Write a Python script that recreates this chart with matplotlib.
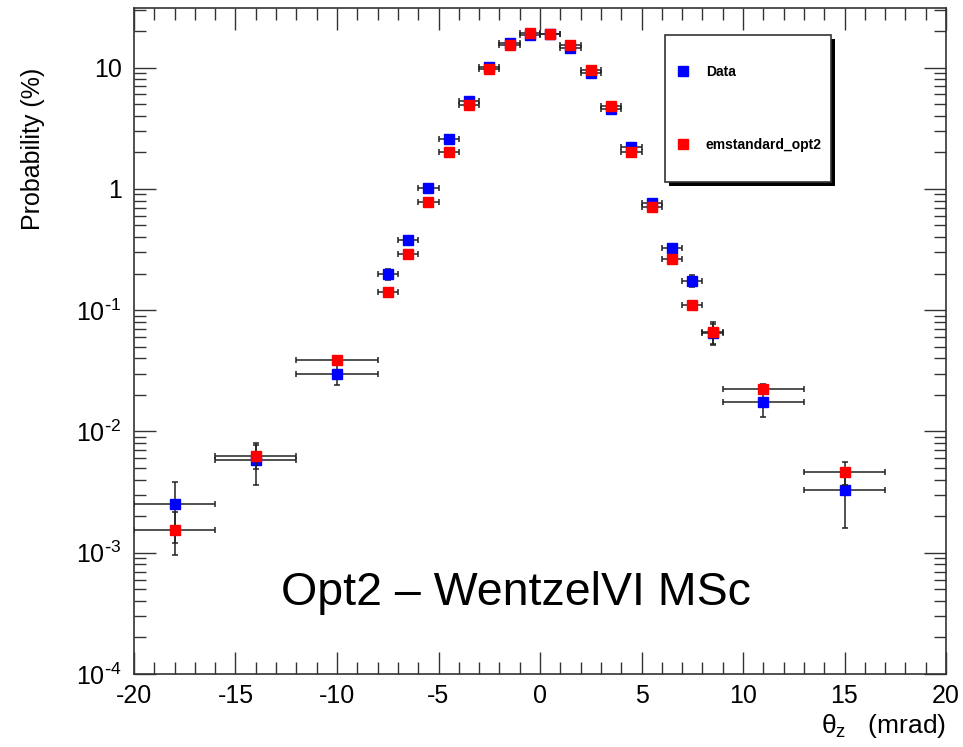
import numpy as np
import matplotlib
matplotlib.use("Agg")
import matplotlib.pyplot as plt
import matplotlib.ticker as ticker
from matplotlib.lines import Line2D
from matplotlib.patches import Rectangle

plt.rcParams["font.family"] = ["Liberation Sans", "DejaVu Sans"]
plt.rcParams["mathtext.default"] = "regular"
plt.rcParams["axes.unicode_minus"] = False

# theta_z bins (mrad) and half-widths
theta = [-18, -14, -10, -7.5, -6.5, -5.5, -4.5, -3.5, -2.5, -1.5, -0.5,
         0.5, 1.5, 2.5, 3.5, 4.5, 5.5, 6.5, 7.5, 8.5, 11, 15]
theta_err = [2, 2, 2, 0.5, 0.5, 0.5, 0.5, 0.5, 0.5, 0.5, 0.5,
             0.5, 0.5, 0.5, 0.5, 0.5, 0.5, 0.5, 0.5, 0.5, 2, 2]

# probability (%)
data = [2.5e-3, 5.8e-3, 0.0300, 0.198, 0.38, 1.02, 2.6, 5.3, 10.1, 15.9, 18.6,
        19.0, 14.6, 9.0, 4.55, 2.2, 0.76, 0.325, 0.175, 0.065, 0.0176, 0.0033]
data_err = [1.3e-3, 2.2e-3, 0.006, 0.02, 0.03, 0.05, 0.1, 0.2, 0.3, 0.4, 0.4,
            0.4, 0.3, 0.2, 0.15, 0.08, 0.03, 0.02, 0.02, 0.012, 0.0045, 0.0017]

mc = [1.55e-3, 6.3e-3, 0.0385, 0.14, 0.29, 0.78, 2.0, 4.9, 9.8, 15.3, 19.3,
      19.0, 15.4, 9.5, 4.85, 2.02, 0.71, 0.265, 0.11, 0.066, 0.0225, 0.0046]
mc_err = [0.6e-3, 1.4e-3, 0.002, 0.008, 0.01, 0.03, 0.06, 0.1, 0.2, 0.3, 0.3,
          0.3, 0.3, 0.2, 0.1, 0.05, 0.02, 0.01, 0.006, 0.014, 0.002, 0.001]

W, H = 963, 747
fig = plt.figure(figsize=(W / 100, H / 100), dpi=100)
ax = fig.add_axes([134 / W, 1 - 674 / H, (946 - 134) / W, (674 - 8) / H])

ax.errorbar(theta, data, xerr=theta_err, yerr=data_err, fmt="s", color="#0000ff",
            ms=7.5, mec="#0000ff", ecolor="#222222", elinewidth=1.1, capsize=2.2,
            capthick=1.1, zorder=3)
ax.errorbar(theta, mc, xerr=theta_err, yerr=mc_err, fmt="s", color="#ff0000",
            ms=7.5, mec="#ff0000", ecolor="#222222", elinewidth=1.1, capsize=2.2,
            capthick=1.1, zorder=4)

ax.set_yscale("log")
ax.set_xlim(-20, 20)
ax.set_ylim(1e-4, 31)

ax.xaxis.set_major_locator(ticker.MultipleLocator(5))
ax.xaxis.set_minor_locator(ticker.MultipleLocator(1))
ax.yaxis.set_major_locator(ticker.LogLocator(base=10, numticks=10))
ax.yaxis.set_minor_locator(ticker.LogLocator(base=10, subs=np.arange(2, 10), numticks=20))
ax.yaxis.set_minor_formatter(ticker.NullFormatter())


def ylab(v, pos):
    e = int(round(np.log10(v)))
    if e == 0:
        return "1"
    if e == 1:
        return "10"
    return "10$^{\\text{-}%d}$" % (-e)


ax.yaxis.set_major_formatter(ticker.FuncFormatter(ylab))

ax.tick_params(which="both", direction="in", top=True, right=True, colors="#333333",
               labelcolor="black", labelsize=18)
ax.tick_params(which="major", length=16, width=1.0)
ax.tick_params(which="minor", length=8.5, width=1.0)
ax.tick_params(axis="x", pad=7)
ax.tick_params(axis="y", pad=9)
for s in ax.spines.values():
    s.set_color("#333333")
    s.set_linewidth(1.2)

ax.set_ylabel("Probability (%)", fontsize=18, va="center", ha="center")
ax.yaxis.set_label_coords(-0.124, 0.788)
ax.set_xlabel(r"$\theta_{z}$   (mrad)", fontsize=19, ha="right", va="center")
ax.xaxis.set_label_coords(1.0, -0.078)

ax.text(0.470, 0.1036, "Opt2 \u2013 WentzelVI MSc", transform=ax.transAxes,
        ha="center", va="baseline", fontsize=33.5)

# legend box with ROOT-style shadow
x0, y0, x1, y1 = 665, 35, 831, 182
fig.add_artist(Rectangle((x0 / W + 4 / W, 1 - (y1 + 4) / H), (x1 - x0) / W, (y1 - y0) / H,
                         transform=fig.transFigure, facecolor="black", edgecolor="none", zorder=5))
fig.add_artist(Rectangle((x0 / W, 1 - y1 / H), (x1 - x0) / W, (y1 - y0) / H,
                         transform=fig.transFigure, facecolor="white", edgecolor="#333333",
                         lw=1.2, zorder=6))
handles = [Line2D([], [], ls="none", marker="s", ms=7.5, color="#0000ff"),
           Line2D([], [], ls="none", marker="s", ms=7.5, color="#ff0000")]
leg = fig.legend(handles, ["Data", "emstandard_opt2"], loc="upper left",
                 bbox_to_anchor=(664 / W, 1 - 52 / H), frameon=False,
                 prop={"weight": "bold", "size": 10}, labelspacing=4.3,
                 handlelength=1.0, handletextpad=1.1)
leg.set_zorder(7)

fig.savefig("out.png", dpi=100, facecolor="white")
